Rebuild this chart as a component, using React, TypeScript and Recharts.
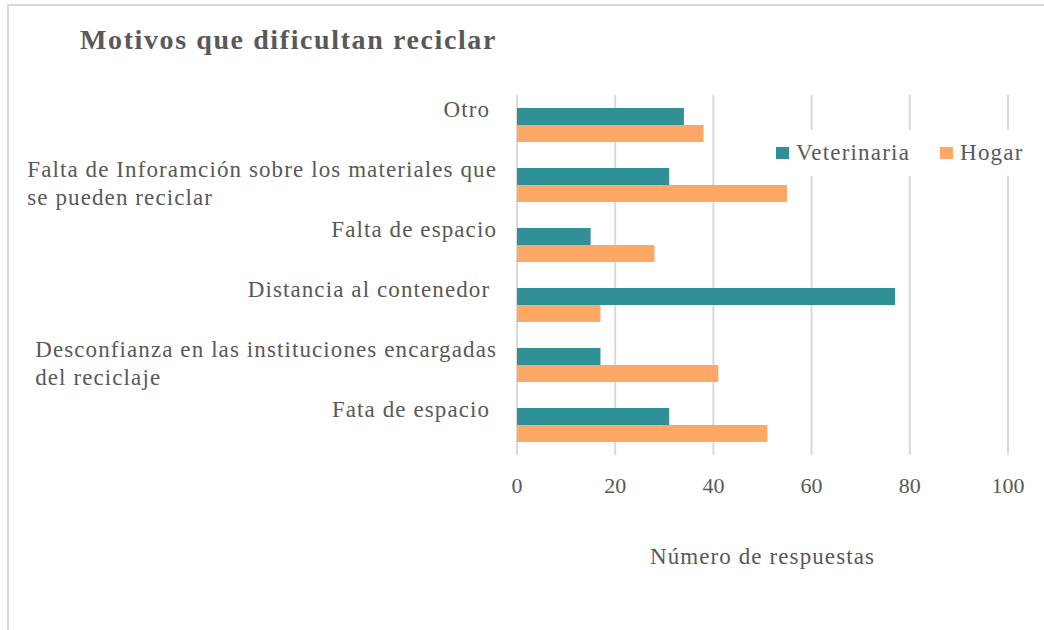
import React from "react";
import { Bar, BarChart, CartesianGrid, Label, Legend, XAxis, YAxis } from "recharts";

const motivos = [
  "Otro ",
  "Falta de Inforamción sobre los materiales que\nse pueden reciclar",
  "Falta de espacio",
  "Distancia al contenedor ",
  "Desconfianza en las instituciones encargadas\ndel reciclaje",
  "Fata de espacio ",
];
const veterinaria = [34, 31, 15, 77, 17, 31];
const hogar = [38, 55, 28, 17, 41, 51];
const series = ["Veterinaria", "Hogar"];
const xTicks = [0, 20, 40, 60, 80, 100];

const FONT = "'Liberation Serif', 'Times New Roman', serif";
const TEXT = "#595959";
const TEAL = "#2f9098";
const ORANGE = "#ffa764";

const data = motivos.map((motivo, i) => ({
  motivo,
  Veterinaria: veterinaria[i],
  Hogar: hogar[i],
}));

// category labels: block right-aligned at x=495, lines left-aligned inside it
function MotivoTick(props: any) {
  const { y, payload } = props;
  return (
    <foreignObject x={0} y={y - 29} width={497} height={64}>
      <div style={{ display: "flex", justifyContent: "flex-end" }}>
        <div
          style={{
            whiteSpace: "pre",
            textAlign: "left",
            fontFamily: FONT,
            fontSize: 23,
            lineHeight: "28px",
            letterSpacing: 1.1,
            color: TEXT,
          }}
        >
          {payload.value}
        </div>
      </div>
    </foreignObject>
  );
}

function LegendBox(props: any) {
  const items = [...(props.payload ?? [])].sort(
    (a: any, b: any) => series.indexOf(a.value) - series.indexOf(b.value)
  );
  return (
    <div style={{ display: "flex", alignItems: "center", background: "#fff", padding: "10px 0 10px 6px" }}>
      {items.map((it: any) => (
        <div key={it.value} style={{ display: "flex", alignItems: "center", marginRight: 30 }}>
          <span style={{ display: "inline-block", width: 13, height: 12, background: it.color, marginRight: 7 }} />
          <span style={{ fontFamily: FONT, fontSize: 23, letterSpacing: 1.2, color: TEXT }}>{it.value}</span>
        </div>
      ))}
    </div>
  );
}

export default function App() {
  return (
    <div style={{ position: "absolute", left: 0, top: 0, width: 1044, height: 630, overflow: "hidden", background: "#fff" }}>
      <div
        style={{
          position: "absolute",
          left: 7,
          top: 4,
          width: 1100,
          height: 700,
          border: "2px solid #d9d9d9",
        }}
      />
      <div
        style={{
          position: "absolute",
          left: 80,
          top: 24,
          fontFamily: FONT,
          fontWeight: "bold",
          fontSize: 28,
          letterSpacing: 1.6,
          color: TEXT,
          whiteSpace: "nowrap",
        }}
      >
        Motivos que dificultan reciclar
      </div>
      <div style={{ position: "absolute", left: 0, top: 0 }}>
        <BarChart
          width={1044}
          height={630}
          data={data}
          layout="vertical"
          margin={{ top: 95, right: 36, bottom: 55, left: 0 }}
          barCategoryGap={13}
          barGap={0}
        >
          <CartesianGrid horizontal={false} stroke="#d9d9d9" strokeWidth={2} />
          <XAxis
            type="number"
            domain={[0, 100]}
            ticks={xTicks}
            axisLine={false}
            tickLine={false}
            tickMargin={16}
            height={120}
            tick={{ fontFamily: FONT, fontSize: 22, fill: TEXT }}
          >
            <Label
              value="Número de respuestas"
              position="insideBottom"
              offset={11}
              style={{ fontFamily: FONT, fontSize: 23, fill: TEXT, letterSpacing: 1.1 }}
            />
          </XAxis>
          <YAxis
            type="category"
            dataKey="motivo"
            width={517}
            axisLine={false}
            tickLine={false}
            tick={<MotivoTick />}
            interval={0}
          />
          <Legend
            layout="horizontal"
            verticalAlign="middle"
            align="center"
            content={<LegendBox />}
            wrapperStyle={{ top: 130, left: 770, width: 274 }}
          />
          <Bar dataKey="Veterinaria" fill={TEAL} isAnimationActive={false} />
          <Bar dataKey="Hogar" fill={ORANGE} isAnimationActive={false} />
        </BarChart>
      </div>
    </div>
  );
}
